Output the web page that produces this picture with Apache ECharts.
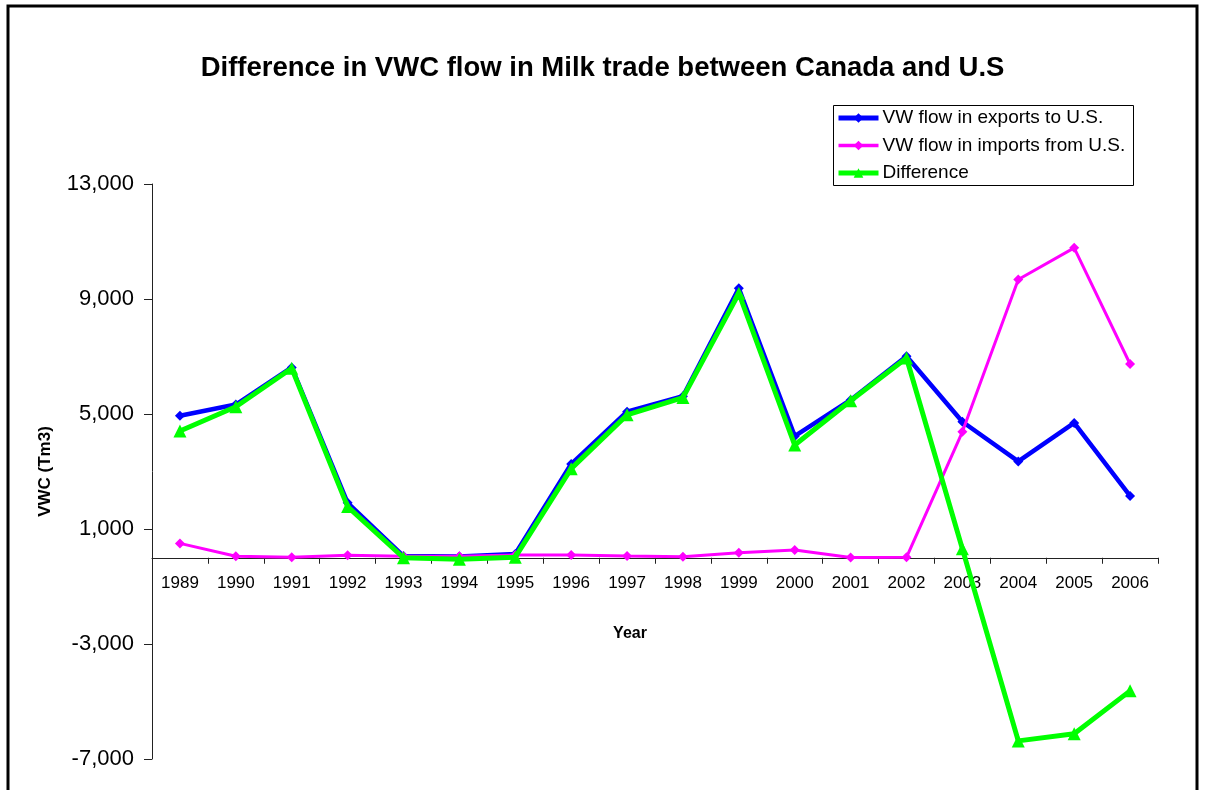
<!DOCTYPE html>
<html>
<head>
<meta charset="utf-8">
<title>Difference in VWC flow in Milk trade between Canada and U.S</title>
<script src="https://cdn.jsdelivr.net/npm/echarts@6/dist/echarts.min.js"></script>
<style>
  html, body { margin: 0; padding: 0; background: #fff; }
  #chart { width: 1205px; height: 790px; }
</style>
</head>
<body>
<div id="chart"></div>
<script>
// Years on the category axis
const years = ['1989', '1990', '1991', '1992', '1993', '1994', '1995', '1996', '1997',
               '1998', '1999', '2000', '2001', '2002', '2003', '2004', '2005', '2006'];

// Virtual water flow (Tm3)
const exportsToUS   = [4940, 5330, 6620, 1910, 60, 40, 130, 3260, 5080,
                       5620, 9370, 4230, 5490, 7010, 4730, 3350, 4690, 2150];
const importsFromUS = [500, 50, 15, 85, 50, 50, 100, 95, 60,
                       35, 175, 270, 10, 15, 4380, 9680, 10780, 6740];
const difference    = [4410, 5250, 6590, 1780, 0, -50, 20, 3100, 4970,
                       5570, 9200, 3920, 5460, 6950, 310, -6370, -6120, -4630];

const seriesNames = ['VW flow in exports to U.S.', 'VW flow in imports from U.S.', 'Difference'];
const seriesColors = ['#0000FF', '#FF00FF', '#00FF00'];

// Value axis range and step
const yMin = -7000, yMax = 13000, yStep = 4000;

const FONT = 'Arial, "Liberation Sans", sans-serif';

// Plot area
const GRID = { left: 152, right: 47, top: 184, bottom: 31 };
const plotHeight = 790 - GRID.top - GRID.bottom;
// Lift the category axis from the bottom edge up to the zero line
const zeroOffset = -plotHeight * (0 - yMin) / (yMax - yMin);

const chart = echarts.init(document.getElementById('chart'), null, { renderer: 'canvas' });

chart.setOption({
  animation: false,
  backgroundColor: '#ffffff',
  title: {
    text: 'Difference in VWC flow in Milk trade between Canada and U.S',
    left: 'center',
    top: 49,
    padding: 5,
    textStyle: { fontFamily: FONT, fontSize: 27.5, fontWeight: 'bold', color: '#000' }
  },
  graphic: [
    {
      type: 'rect',
      silent: true,
      shape: { x: 8, y: 6, width: 1189, height: 820 },
      style: { fill: 'none', stroke: '#000', lineWidth: 3 }
    },
    {
      type: 'rect',
      silent: true,
      shape: { x: 833.5, y: 105.5, width: 300, height: 80 },
      style: { fill: '#fff', stroke: '#000', lineWidth: 1 },
      z: 1
    },
    {
      type: 'text',
      silent: true,
      x: 630, y: 634,
      style: {
        text: 'Year', fontFamily: FONT, fontSize: 16, fontWeight: 'bold',
        fill: '#000', align: 'center', verticalAlign: 'middle'
      }
    }
  ],
  legend: {
    orient: 'vertical',
    left: 833,
    top: 107,
    padding: [1, 0, 0, 3],
    itemWidth: 40,
    itemHeight: 12,
    itemGap: 7.5,
    z: 5,
    data: seriesNames.map((name, i) => ({
      name,
      lineStyle: { width: i === 1 ? 3.5 : 5, color: seriesColors[i] }
    })),
    textStyle: { fontFamily: FONT, fontSize: 19, color: '#000', lineHeight: 20, padding: [0, 0, 0, -1] }
  },
  grid: { left: GRID.left, right: GRID.right, top: GRID.top, bottom: GRID.bottom, containLabel: false },
  xAxis: {
    type: 'category',
    data: years,
    boundaryGap: true,
    position: 'bottom',
    offset: zeroOffset,
    axisLine: { show: true, onZero: false, lineStyle: { color: '#222', width: 1 } },
    axisTick: { show: true, inside: false, length: 6, interval: 0, lineStyle: { color: '#222' } },
    axisLabel: { interval: 0, margin: 17, fontFamily: FONT, fontSize: 17, color: '#000' },
    splitLine: { show: false }
  },
  yAxis: {
    type: 'value',
    min: yMin,
    max: yMax,
    interval: yStep,
    name: 'VWC (Tm3)',
    nameLocation: 'middle',
    nameGap: 98,
    nameTextStyle: { fontFamily: FONT, fontSize: 17, fontWeight: 'bold', color: '#000' },
    axisLine: { show: true, lineStyle: { color: '#222', width: 1 } },
    axisTick: { show: true, inside: false, length: 8, lineStyle: { color: '#222' } },
    axisLabel: {
      margin: 18, fontFamily: FONT, fontSize: 22, color: '#000',
      formatter: v => v.toLocaleString('en-US')
    },
    splitLine: { show: false }
  },
  series: [
    {
      name: seriesNames[0],
      type: 'line',
      data: exportsToUS,
      color: seriesColors[0],
      symbol: 'diamond',
      symbolSize: 10,
      lineStyle: { width: 4.5, color: seriesColors[0] },
      itemStyle: { color: seriesColors[0] },
      z: 2
    },
    {
      name: seriesNames[1],
      type: 'line',
      data: importsFromUS,
      color: seriesColors[1],
      symbol: 'diamond',
      symbolSize: 10,
      lineStyle: { width: 3, color: seriesColors[1] },
      itemStyle: { color: seriesColors[1] },
      z: 3
    },
    {
      name: seriesNames[2],
      type: 'line',
      data: difference,
      color: seriesColors[2],
      symbol: 'triangle',
      symbolSize: 13,
      lineStyle: { width: 5, color: seriesColors[2] },
      itemStyle: { color: seriesColors[2] },
      z: 4
    }
  ]
});
</script>
</body>
</html>
